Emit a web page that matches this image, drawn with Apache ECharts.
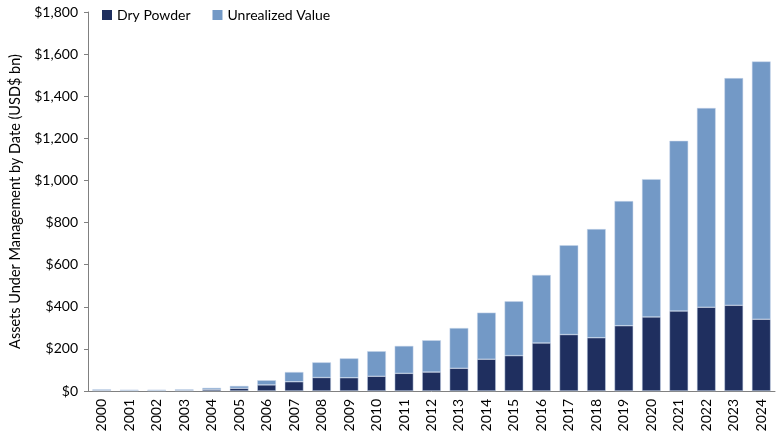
<!DOCTYPE html>
<html><head><meta charset="utf-8">
<script src="https://cdn.jsdelivr.net/npm/echarts@6/dist/echarts.min.js"></script>
<style>html,body{margin:0;padding:0;background:#fff}#c{width:780px;height:440px}</style>
</head><body><div id="c"></div>
<script>
var years = ['2000','2001','2002','2003','2004','2005','2006','2007','2008','2009','2010','2011','2012','2013','2014','2015','2016','2017','2018','2019','2020','2021','2022','2023','2024'];
var dryPowder = [4,3,3,4,8,13,29,44,64,63,70,84,90,108,151,168,228,268,253,310,352,380,398,407,341];
var totalAUM = [8,6,6,8,15,24,51,90,136,155,189,214,241,299,372,426,551,692,769,902,1006,1188,1344,1486,1565];
var unrealized = totalAUM.map(function(t,i){return t - dryPowder[i];});
var yTicks = [0,200,400,600,800,1000,1200,1400,1600,1800];

var chart = echarts.init(document.getElementById('c'));
var font = 'Lato, "Open Sans", sans-serif';
chart.setOption({
  animation:false,
  textStyle:{fontFamily:font},
  legend:{
    top:3, left:97, itemWidth:10, itemHeight:10, itemGap:22, icon:'rect',
    itemStyle:{borderWidth:0},
    textStyle:{fontSize:14, color:'#000', fontFamily:font},
    data:['Dry Powder','Unrealized Value']
  },
  grid:{left:81, right:5, top:12, bottom:49},
  xAxis:{
    type:'category', data:years,
    axisLine:{lineStyle:{color:'#808080'}},
    axisTick:{show:false},
    axisLabel:{rotate:90, fontSize:14, color:'#000', margin:8, fontFamily:font}
  },
  yAxis:{
    type:'value', min:yTicks[0], max:yTicks[yTicks.length-1], interval:200,
    name:'Assets Under Management by Date (USD$ bn)', nameLocation:'middle', nameGap:65,
    nameTextStyle:{fontSize:14.5, color:'#000', fontFamily:font},
    axisLine:{show:true, lineStyle:{color:'#808080'}},
    axisTick:{show:true, length:4, lineStyle:{color:'#808080'}},
    splitLine:{show:false},
    axisLabel:{fontSize:14, color:'#000', margin:10, fontFamily:font,
      formatter:function(v){return '$'+v.toLocaleString('en-US');}}
  },
  series:[
    {name:'Dry Powder', type:'bar', stack:'a', data:dryPowder, barWidth:'68%',
      itemStyle:{color:'#1f2f5f', borderColor:'#c9d6ea', borderWidth:0.5}},
    {name:'Unrealized Value', type:'bar', stack:'a', data:unrealized, barWidth:'68%',
      itemStyle:{color:'#7399c6', borderColor:'#c9d6ea', borderWidth:0.5}}
  ]
});
</script></body></html>
